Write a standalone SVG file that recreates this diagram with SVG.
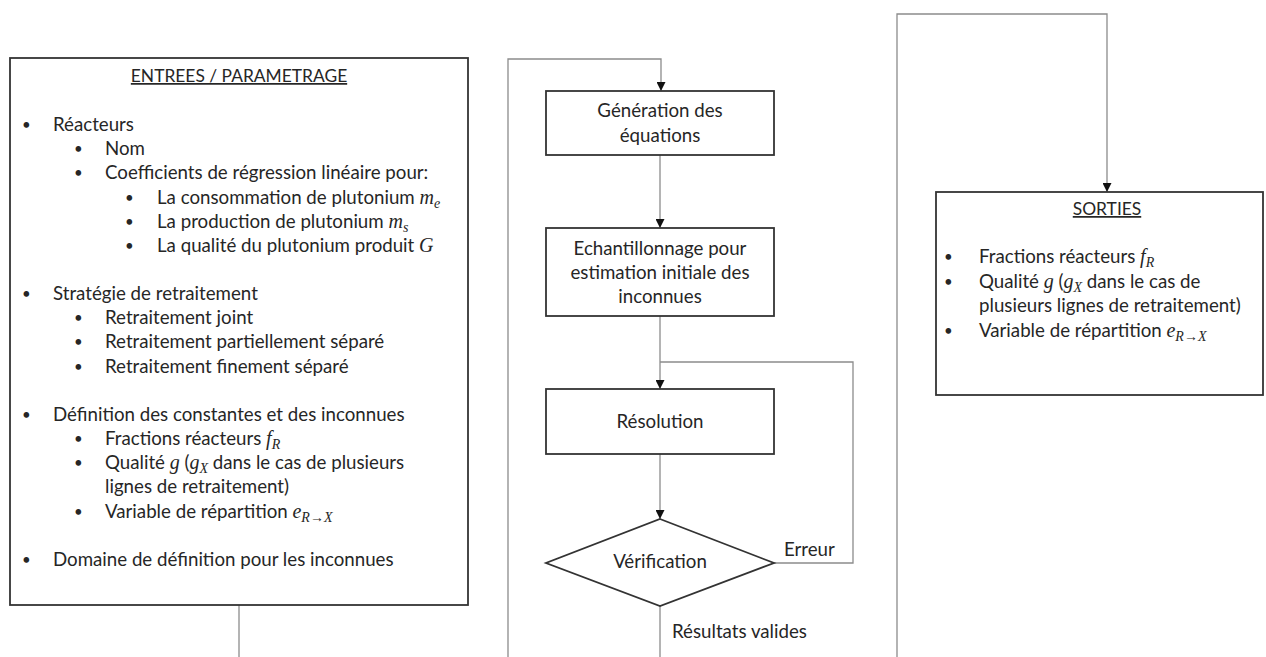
<svg xmlns="http://www.w3.org/2000/svg" width="1266" height="657" viewBox="0 0 1266 657">
<style>
text{font-family:Lato,"Open Sans","Liberation Sans",sans-serif;font-size:18.7px;fill:#262626}
.c{text-anchor:middle}
.b{font-size:15px}
.t{font-size:17.4px}
.m{font-family:"Liberation Serif",serif;font-style:italic;font-size:20px}
.s{font-family:"Liberation Serif",serif;font-style:italic;font-size:14px}
.box{fill:#fff;stroke:#333;stroke-width:1.8}
.conn{fill:none;stroke:#8c8c8c;stroke-width:1.3}
.u{text-decoration:underline}
</style>
<defs>
<marker id="ar" viewBox="0 0 10 10" refX="10" refY="5" markerWidth="9" markerHeight="9" markerUnits="userSpaceOnUse" orient="auto">
<path d="M0,0 L10,5 L0,10 z" fill="#111"/>
</marker>
</defs>
<g id="connectors">
<path class="conn" d="M239,605 V657"/>
<path class="conn" d="M508,657 V59 H661 V91" marker-end="url(#ar)"/>
<path class="conn" d="M660,155 V228" marker-end="url(#ar)"/>
<path class="conn" d="M660,316 V389" marker-end="url(#ar)"/>
<path class="conn" d="M774,563 H853 V362 H660"/>
<path class="conn" d="M660,454 V519" marker-end="url(#ar)"/>
<path class="conn" d="M660,606 V657"/>
<path class="conn" d="M897,657 V14 H1107 V192" marker-end="url(#ar)"/>
<text x="784" y="556">Erreur</text>
<text x="672" y="638">Résultats valides</text>
</g>
<g id="entrees">
<rect class="box" x="10" y="58" width="458" height="547"/>
<text class="c u t" x="239" y="82">ENTREES / PARAMETRAGE</text>
<g>
<text class="b" x="22" y="130">•</text><text x="53" y="131">Réacteurs</text>
<text class="b" x="74" y="154">•</text><text x="105" y="155">Nom</text>
<text class="b" x="74" y="178">•</text><text x="105" y="179">Coefficients de régression linéaire pour:</text>
<text class="b" x="125" y="203">•</text><text x="157" y="204">La consommation de plutonium <tspan class="m">m</tspan><tspan class="s" dy="4">e</tspan></text>
<text class="b" x="125" y="227">•</text><text x="157" y="228">La production de plutonium <tspan class="m">m</tspan><tspan class="s" dy="4">s</tspan></text>
<text class="b" x="125" y="251">•</text><text x="157" y="252">La qualité du plutonium produit <tspan class="m">G</tspan></text>
<text class="b" x="22" y="299">•</text><text x="53" y="300">Stratégie de retraitement</text>
<text class="b" x="74" y="323">•</text><text x="105" y="324">Retraitement joint</text>
<text class="b" x="74" y="347">•</text><text x="105" y="348">Retraitement partiellement séparé</text>
<text class="b" x="74" y="372">•</text><text x="105" y="373">Retraitement finement séparé</text>
<text class="b" x="22" y="420">•</text><text x="53" y="421">Définition des constantes et des inconnues</text>
<text class="b" x="74" y="444">•</text><text x="105" y="445">Fractions réacteurs <tspan class="m">f</tspan><tspan class="s" dy="4">R</tspan></text>
<text class="b" x="74" y="468">•</text><text x="105" y="469">Qualité <tspan class="m">g</tspan> (<tspan class="m">g</tspan><tspan class="s" dy="4">X</tspan><tspan dy="-4"> dans le cas de plusieurs</tspan></text>
<text x="105" y="493">lignes de retraitement)</text>
<text class="b" x="74" y="517">•</text><text x="105" y="518">Variable de répartition <tspan class="m">e</tspan><tspan class="s" dy="4">R→X</tspan></text>
<text class="b" x="22" y="565">•</text><text x="53" y="566">Domaine de définition pour les inconnues</text>
</g>
</g>
<g id="generation">
<rect class="box" x="546" y="91" width="228" height="64"/>
<text class="c" x="660" y="117">Génération des</text>
<text class="c" x="660" y="142">équations</text>
</g>
<g id="echantillonnage">
<rect class="box" x="546" y="228" width="228" height="88"/>
<text class="c" x="660" y="255">Echantillonnage pour</text>
<text class="c" x="660" y="279">estimation initiale des</text>
<text class="c" x="660" y="303">inconnues</text>
</g>
<g id="resolution">
<rect class="box" x="546" y="389" width="228" height="65"/>
<text class="c" x="660" y="428">Résolution</text>
</g>
<g id="verification">
<path class="box" d="M660,519 L774,563 L660,606 L546,563 Z"/>
<text class="c" x="660" y="568">Vérification</text>
</g>
<g id="sorties">
<rect class="box" x="936" y="192" width="327" height="203"/>
<text class="c u t" x="1107" y="215">SORTIES</text>
<text class="b" x="944" y="262">•</text><text x="979" y="263">Fractions réacteurs <tspan class="m">f</tspan><tspan class="s" dy="4">R</tspan></text>
<text class="b" x="944" y="287">•</text><text x="979" y="288">Qualité <tspan class="m">g</tspan> (<tspan class="m">g</tspan><tspan class="s" dy="4">X</tspan><tspan dy="-4"> dans le cas de</tspan></text>
<text x="979" y="312">plusieurs lignes de retraitement)</text>
<text class="b" x="944" y="336">•</text><text x="979" y="337">Variable de répartition <tspan class="m">e</tspan><tspan class="s" dy="4">R→X</tspan></text>
</g>
</svg>
